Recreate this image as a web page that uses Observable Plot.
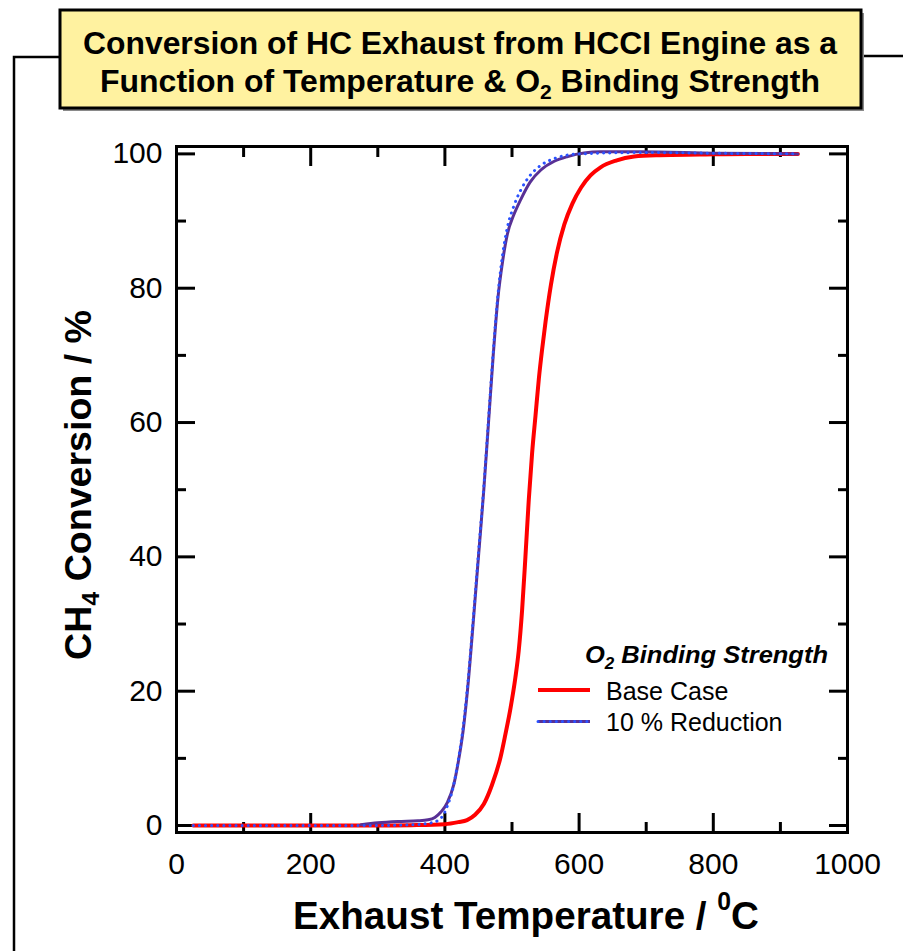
<!DOCTYPE html>
<html>
<head>
<meta charset="utf-8">
<script src="https://cdn.jsdelivr.net/npm/d3@7"></script>
<script src="https://cdn.jsdelivr.net/npm/@observablehq/plot@0.6"></script>
<style>
  html, body { margin: 0; padding: 0; background: #fff; }
  #chart { width: 903px; height: 951px; overflow: hidden; }
</style>
</head>
<body>
<div id="chart"></div>
<script>
// CH4 conversion (%) vs exhaust temperature (°C)
// Base case O2 binding strength
const baseTemp = [25, 100, 200, 300, 350, 400, 420, 433, 445, 458, 470, 483, 490, 498, 505, 510, 515, 520, 525, 530, 535, 540, 545, 550, 558, 567, 578, 590, 603, 617, 632, 655, 682, 720, 780, 850, 926];
const baseConv = [0, 0, 0, 0, 0.05, 0.2, 0.5, 0.8, 1.6, 3.2, 6, 10.2, 13.5, 17.6, 22, 26, 32, 40, 48.5, 55.5, 61, 66.5, 71, 75, 80.5, 85.3, 89.5, 92.6, 95, 96.8, 98, 99, 99.6, 99.8, 99.9, 100, 100];

// 10 % reduction in O2 binding strength (solid)
const reducedTemp = [275, 300, 330, 360, 375, 385, 394, 404, 413, 420, 427, 434, 442, 450, 458, 465, 472, 479, 486, 493, 503, 513, 527, 543, 563, 583, 632, 692, 800, 926];
const reducedConv = [0.1, 0.4, 0.6, 0.7, 0.85, 1.2, 2, 3.5, 6, 9.5, 14, 20.5, 30, 40, 50, 60, 70, 78.5, 84, 88, 91, 93.2, 95.8, 97.6, 98.9, 99.6, 100.3, 100.3, 100.1, 100];

// 10 % reduction (dotted companion trace)
const reducedDotTemp = [25, 100, 200, 300, 350, 380, 395, 404, 413, 420, 427, 434, 442, 450, 458, 465, 472, 479, 486, 493, 503, 513, 527, 543, 563, 600, 700, 800, 926];
const reducedDotConv = [0, 0, 0, 0, 0.1, 0.4, 1.2, 3, 6, 9.8, 14.5, 21, 30.5, 40.5, 50.5, 60.5, 70.5, 79, 85, 89, 92.3, 94.6, 96.8, 98.3, 99.3, 100, 100.2, 100.1, 100];

// Axis ticks
const xMajor = [0, 200, 400, 600, 800, 1000];
const xMinor = [100, 300, 500, 700, 900];
const yMajor = [0, 20, 40, 60, 80, 100];
const yMinor = [10, 30, 50, 70, 90];

const rows = (ts, cs) => ts.map((t, i) => ({t, c: cs[i]}));
const baseRows = rows(baseTemp, baseConv);
const reducedRows = rows(reducedTemp, reducedConv);
const reducedDotRows = rows(reducedDotTemp, reducedDotConv);

const RED = "#ff0000";
const PURPLE = "#583095";
const BLUE = "#2a52ff";
const FONT = "'Liberation Sans', Arial, Helvetica, sans-serif";
const DOTS = "0.1 6";

const tickAxis = (fn, anchor, ticks, size) =>
  fn({anchor, ticks, tickSize: -size, strokeWidth: 3, tickFormat: () => "", label: null});

const svgEl = Plot.plot({
  width: 903,
  height: 951,
  marginLeft: 176,
  marginRight: 56,
  marginTop: 146,
  marginBottom: 119,
  x: {domain: [0, 1000]},
  y: {domain: [-1.04, 101.1]},
  style: {fontFamily: FONT, color: "black", background: "white", overflow: "visible"},
  marks: [
    // inward tick marks on all four sides
    tickAxis(Plot.axisX, "bottom", xMajor, 19),
    tickAxis(Plot.axisX, "bottom", xMinor, 10),
    tickAxis(Plot.axisX, "top", xMajor, 19),
    tickAxis(Plot.axisX, "top", xMinor, 10),
    tickAxis(Plot.axisY, "left", yMajor, 19),
    tickAxis(Plot.axisY, "left", yMinor, 10),
    tickAxis(Plot.axisY, "right", yMajor, 19),
    tickAxis(Plot.axisY, "right", yMinor, 10),
    // tick labels
    Plot.axisX({anchor: "bottom", ticks: xMajor, tickSize: 0, tickPadding: 20, tickFormat: "d", fontSize: 30, label: null}),
    Plot.axisY({anchor: "left", ticks: yMajor, tickSize: 0, tickPadding: 14, tickFormat: "d", fontSize: 30, label: null}),
    // curves
    Plot.line(baseRows, {x: "t", y: "c", stroke: RED, strokeWidth: 4, curve: "monotone-x"}),
    Plot.line(reducedRows, {x: "t", y: "c", stroke: PURPLE, strokeWidth: 3, curve: "monotone-x"}),
    Plot.line(reducedDotRows, {x: "t", y: "c", stroke: BLUE, strokeWidth: 3, strokeDasharray: DOTS, strokeLinecap: "round", curve: "monotone-x"}),
    Plot.frame({stroke: "black", strokeWidth: 3})
  ]
});

document.getElementById("chart").appendChild(svgEl);
const svg = d3.select(svgEl);

// Outer panel border running behind the title box
svg.append("path")
  .attr("d", "M14,951 V57 H60 M861,56 H903")
  .attr("fill", "none").attr("stroke", "black").attr("stroke-width", 2.5);

// Title box
svg.append("rect").attr("x", 63).attr("y", 13).attr("width", 801).attr("height", 98).attr("fill", "#8a8a8a");
svg.append("rect").attr("x", 60).attr("y", 10).attr("width", 801).attr("height", 98)
  .attr("fill", "#fff2a0").attr("stroke", "black").attr("stroke-width", 3);

const title = svg.append("g").attr("font-family", FONT).attr("font-weight", "bold").attr("font-size", 32).attr("fill", "black");
title.append("text").attr("x", 460).attr("y", 54).attr("text-anchor", "middle")
  .attr("textLength", 754).attr("lengthAdjust", "spacingAndGlyphs")
  .text("Conversion of HC Exhaust from HCCI Engine as a");
const t2 = title.append("text").attr("x", 460).attr("y", 92).attr("text-anchor", "middle")
  .attr("textLength", 720).attr("lengthAdjust", "spacingAndGlyphs");
t2.append("tspan").text("Function of Temperature & O");
t2.append("tspan").attr("font-size", 21).attr("dy", 7).text("2");
t2.append("tspan").attr("dy", -7).text(" Binding Strength");

// Axis titles
const yt = svg.append("text").attr("font-family", FONT).attr("font-weight", "bold").attr("font-size", 36)
  .attr("text-anchor", "middle").attr("transform", "translate(91,485) rotate(-90)")
  .attr("textLength", 350).attr("lengthAdjust", "spacingAndGlyphs");
yt.append("tspan").text("CH");
yt.append("tspan").attr("font-size", 24).attr("dy", 8).text("4");
yt.append("tspan").attr("dy", -8).text(" Conversion / %");

const xt = svg.append("text").attr("font-family", FONT).attr("font-weight", "bold").attr("font-size", 39)
  .attr("text-anchor", "middle").attr("x", 526).attr("y", 929)
  .attr("textLength", 466).attr("lengthAdjust", "spacingAndGlyphs");
xt.append("tspan").text("Exhaust Temperature / ");
xt.append("tspan").attr("font-size", 25).attr("dy", -19).text("0");
xt.append("tspan").attr("dy", 19).text("C");

// Legend
const lg = svg.append("g").attr("font-family", FONT).attr("text-anchor", "start");
const lt = lg.append("text").attr("x", 585).attr("y", 663).attr("font-weight", "bold").attr("font-style", "italic")
  .attr("font-size", 24).attr("textLength", 243).attr("lengthAdjust", "spacingAndGlyphs");
lt.append("tspan").text("O");
lt.append("tspan").attr("font-size", 16).attr("dy", 6).text("2");
lt.append("tspan").attr("dy", -6).text(" Binding Strength");

lg.append("line").attr("x1", 538).attr("x2", 590).attr("y1", 690).attr("y2", 690)
  .attr("stroke", RED).attr("stroke-width", 4);
lg.append("line").attr("x1", 538).attr("x2", 590).attr("y1", 721.5).attr("y2", 721.5)
  .attr("stroke", PURPLE).attr("stroke-width", 3);
lg.append("line").attr("x1", 538).attr("x2", 590).attr("y1", 721.5).attr("y2", 721.5)
  .attr("stroke", BLUE).attr("stroke-width", 3).attr("stroke-dasharray", DOTS).attr("stroke-linecap", "round");
lg.append("text").attr("x", 606).attr("y", 700).attr("font-size", 25).text("Base Case");
lg.append("text").attr("x", 606).attr("y", 731).attr("font-size", 25).text("10 % Reduction");
</script>
</body>
</html>
